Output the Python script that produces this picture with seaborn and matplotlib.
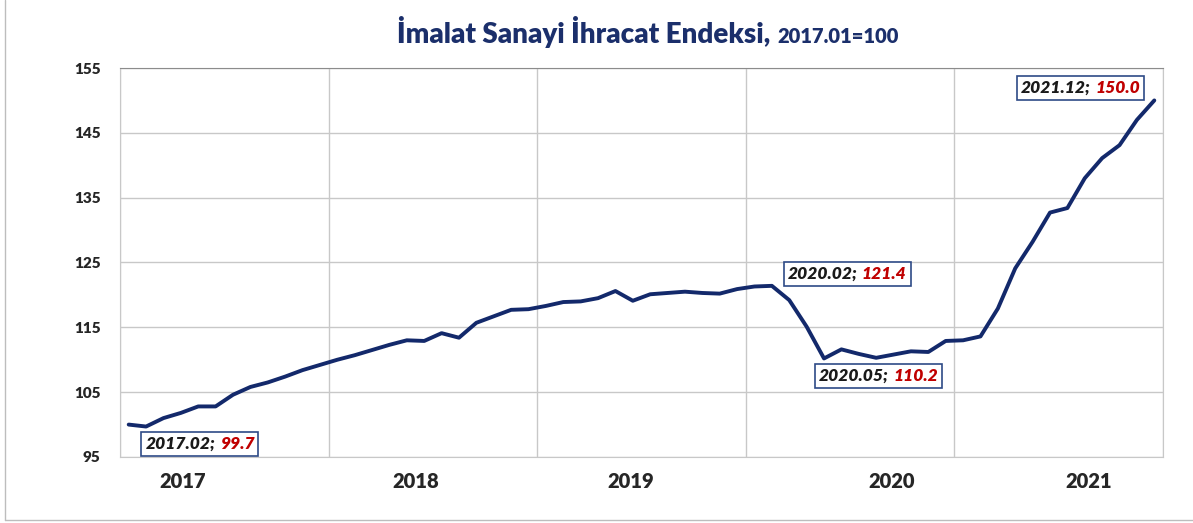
import numpy as np
import pandas as pd
import seaborn as sns
import matplotlib.pyplot as plt
from matplotlib.offsetbox import TextArea, HPacker, AnnotationBbox
from matplotlib.lines import Line2D

# monthly index values, 2017.01 ... 2021.12
years = ["2017", "2018", "2019", "2020", "2021"]
values_2017 = [100.0, 99.7, 101.0, 101.8, 102.8, 102.8, 104.6, 105.8, 106.5, 107.4, 108.4, 109.2]
values_2018 = [110.0, 110.7, 111.5, 112.3, 113.0, 112.9, 114.1, 113.4, 115.7, 116.7, 117.7, 117.8]
values_2019 = [118.3, 118.9, 119.0, 119.5, 120.6, 119.1, 120.1, 120.3, 120.5, 120.3, 120.2, 120.9]
values_2020 = [121.3, 121.4, 119.2, 115.1, 110.2, 111.6, 110.9, 110.3, 110.8, 111.3, 111.2, 112.9]
values_2021 = [113.0, 113.6, 117.9, 124.1, 128.2, 132.7, 133.4, 138.0, 141.1, 143.1, 147.0, 150.0]

# labelled points: (month label, value)
callouts = [("2017.02", "99.7"), ("2020.02", "121.4"), ("2020.05", "110.2"), ("2021.12", "150.0")]

values = values_2017 + values_2018 + values_2019 + values_2020 + values_2021
df = pd.DataFrame({
    "month": [f"{y}.{m:02d}" for y in years for m in range(1, 13)],
    "value": values,
})
df["pos"] = np.arange(len(df))

navy = "#13296B"
grid = "#C8C8C8"

sns.set_style("white")
plt.rcParams["font.family"] = ["Lato", "DejaVu Sans"]

fig = plt.figure(figsize=(11.93, 5.23), dpi=100)
ax = fig.add_axes([120 / 1193, 1 - 457 / 523, (1163 - 120) / 1193, (457 - 68) / 523])

sns.lineplot(data=df, x="pos", y="value", color=navy, linewidth=2.8, ax=ax)
for ln in ax.get_lines():
    ln.set_solid_joinstyle("round")
    ln.set_solid_capstyle("round")

ax.set_xlim(-0.5, len(df) - 0.5)
ax.set_ylim(95, 155)
ax.set_yticks(np.arange(95, 156, 10))
ax.set_yticklabels([str(v) for v in range(95, 156, 10)], fontweight="heavy", fontsize=11)

# year boundaries as minor ticks (gridlines), year labels as major ticks
ax.set_xticks(np.arange(-0.5, len(df), 12), minor=True)
ax.set_xticks([3.1, 16.5, 28.9, 43.9, 55.2])
ax.set_xticklabels(years, fontweight="heavy", fontsize=14.5)
ax.tick_params(axis="x", which="major", length=0, pad=11)
ax.tick_params(axis="x", which="minor", length=6, color=grid, width=1)
ax.tick_params(axis="y", length=6, color=grid, width=1, pad=8)
ax.set_xlabel("")
ax.set_ylabel("")

ax.grid(True, axis="y", color=grid, linewidth=1)
ax.grid(True, axis="x", which="minor", color=grid, linewidth=1)
ax.set_axisbelow(True)
for side in ["left", "right", "bottom"]:
    ax.spines[side].set_color(grid)
ax.spines["top"].set_color("#8C8C8C")

# callout boxes
box_pos = {"2017.02": (4.1, 97.0), "2020.02": (41.34, 123.2),
           "2020.05": (43.13, 107.5), "2021.12": (54.75, 151.9)}
txt = dict(fontsize=12.5, fontweight="heavy", fontstyle="italic")
for month, val in callouts:
    row = df[df["month"] == month].iloc[0]
    pack = HPacker(children=[
        TextArea(month + ";", textprops=dict(color="#1A1A1A", **txt)),
        TextArea(val, textprops=dict(color="#C00000", **txt)),
    ], align="baseline", pad=0, sep=3)
    ab = AnnotationBbox(pack, (row["pos"], row["value"]), xybox=box_pos[month],
                        xycoords="data", boxcoords="data", frameon=True, pad=0.3,
                        bboxprops=dict(edgecolor="#2E4A86", facecolor="white", linewidth=1.2))
    ax.add_artist(ab)

# title in two sizes
fig.text(770 / 1193, 1 - 43 / 523, "İmalat Sanayi İhracat Endeksi,", ha="right", va="baseline",
         fontsize=20, fontweight="heavy", color="#1B2F6B")
fig.text(777 / 1193, 1 - 43 / 523, "2017.01=100", ha="left", va="baseline",
         fontsize=14.5, fontweight="heavy", color="#1B2F6B")

# chart area frame
fig.add_artist(Line2D([5 / 1193, 5 / 1193], [3 / 523, 1], transform=fig.transFigure, color="#BDBDBD", lw=1))
fig.add_artist(Line2D([5 / 1193, 1], [3 / 523, 3 / 523], transform=fig.transFigure, color="#BDBDBD", lw=1))

fig.savefig("out.png", dpi=100)
